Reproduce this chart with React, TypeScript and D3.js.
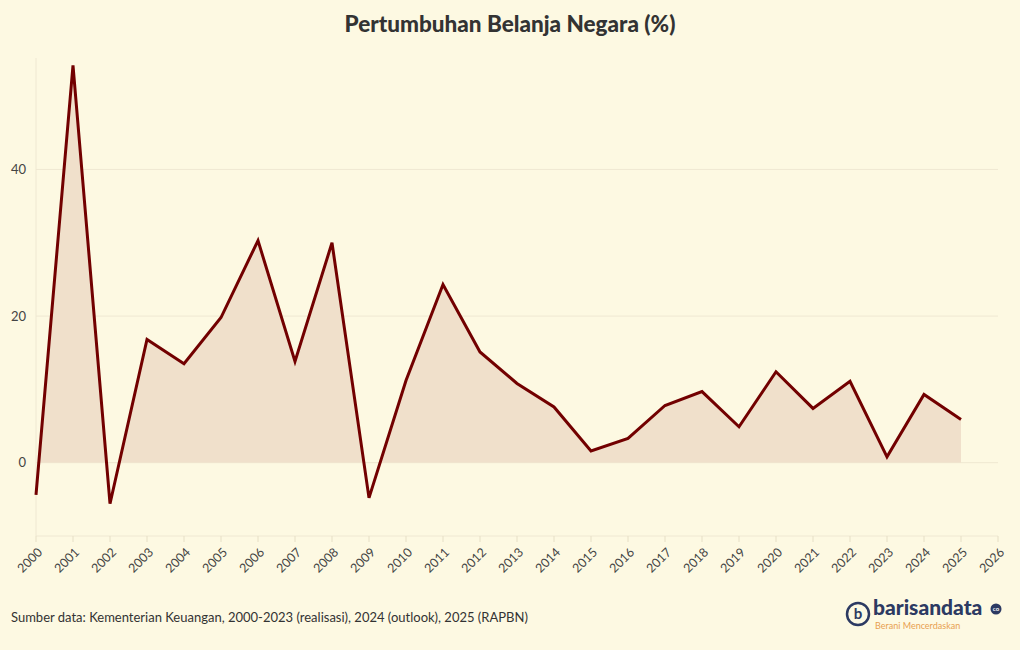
import React from "react";
import { scaleLinear, line, area } from "d3";

const width = 1020;
const height = 650;

const margin = { top: 58, right: 22, bottom: 114, left: 36 };
const innerWidth = width - margin.left - margin.right;
const innerHeight = height - margin.top - margin.bottom;

// data
const years = [
  2000, 2001, 2002, 2003, 2004, 2005, 2006, 2007, 2008, 2009, 2010, 2011, 2012,
  2013, 2014, 2015, 2016, 2017, 2018, 2019, 2020, 2021, 2022, 2023, 2024, 2025,
];
const growth = [
  -4.4, 54.2, -5.6, 16.8, 13.5, 19.8, 30.3, 13.8, 30.0, -4.8, 11.2, 24.3, 15.1,
  10.8, 7.6, 1.6, 3.3, 7.8, 9.7, 4.9, 12.4, 7.4, 11.1, 0.8, 9.3, 5.9,
];
const xTicks = years.concat([2026]);
const yTicks = [0, 20, 40];

const font = "Lato, 'Noto Sans', sans-serif";
const bg = "#fdf9e2";

const data = years.map((y, i) => ({ year: y, value: growth[i] }));

export default function App() {
  const xScale = scaleLinear().domain([2000, 2026]).range([0, innerWidth]);
  const yScale = scaleLinear().domain([-10, 55.2]).range([innerHeight, 0]);

  const linePath = line<{ year: number; value: number }>()
    .x((d) => xScale(d.year))
    .y((d) => yScale(d.value))(data);

  const areaPath = area<{ year: number; value: number }>()
    .x((d) => xScale(d.year))
    .y0(yScale(0))
    .y1((d) => yScale(d.value))(data);

  return (
    <svg
      width={width}
      height={height}
      style={{ position: "absolute", left: 0, top: 0, background: bg }}
    >
      <rect width={width} height={height} fill={bg} />
      <text
        x={width / 2}
        y={32}
        textAnchor="middle"
        fontFamily={font}
        fontWeight="900"
        fontSize={22.5}
        fill="#333"
      >
        Pertumbuhan Belanja Negara (%)
      </text>

      <defs>
        <clipPath id="above-zero">
          <rect x={0} y={0} width={innerWidth} height={yScale(0)} />
        </clipPath>
      </defs>

      <g transform={`translate(${margin.left}, ${margin.top})`}>
        {/* grid */}
        {yTicks.map((t) => (
          <g key={t} transform={`translate(0, ${yScale(t)})`}>
            <line x2={innerWidth} stroke="#efe8d2" strokeWidth={1} />
            <text
              x={-10}
              dy=".35em"
              textAnchor="end"
              fontFamily={font}
              fontSize={13}
              fill="#444"
            >
              {t}
            </text>
          </g>
        ))}
        <line y1={0} y2={innerHeight} stroke="#efe8d2" />
        <line y1={innerHeight} y2={innerHeight} x2={innerWidth} stroke="#efe8d2" />

        {/* x axis */}
        {xTicks.map((t) => (
          <g key={t} transform={`translate(${xScale(t)}, ${innerHeight})`}>
            <line y2={6} stroke="#e6dfc6" />
            <text
              transform="translate(4, 14) rotate(-45)"
              textAnchor="end"
              dy=".35em"
              fontFamily={font}
              fontSize={12.5}
              fill="#444"
            >
              {t}
            </text>
          </g>
        ))}

        {/* marks */}
        <path d={areaPath || ""} fill="#f0e0cb" clipPath="url(#above-zero)" />
        <path
          d={linePath || ""}
          fill="none"
          stroke="#720000"
          strokeWidth={3}
          strokeLinejoin="miter"
        />
      </g>

      <text x={11} y={622} fontFamily={font} fontSize={13} fill="#333">
        Sumber data: Kementerian Keuangan, 2000-2023 (realisasi), 2024 (outlook), 2025 (RAPBN)
      </text>

      {/* logo */}
      <g transform="translate(858, 614)">
        <circle r={11} fill="none" stroke="#2c3a62" strokeWidth={2.5} />
        <text
          x={0}
          y={5}
          textAnchor="middle"
          fontFamily={font}
          fontWeight="bold"
          fontSize={15}
          fill="#2c3a62"
        >
          b
        </text>
        <text x={15} y={1} fontFamily={font} fontWeight="900" fontSize={21} fill="#2c3a62">
          barisandata
        </text>
        <circle cx={138} cy={-5} r={5.5} fill="#2c3a62" />
        <text x={138} y={-3} textAnchor="middle" fontFamily={font} fontWeight="bold" fontSize={6} fill="#fff">
          co
        </text>
        <text x={17} y={15} fontFamily={font} fontSize={9} fill="#e8a050">
          Berani Mencerdaskan
        </text>
      </g>
    </svg>
  );
}
